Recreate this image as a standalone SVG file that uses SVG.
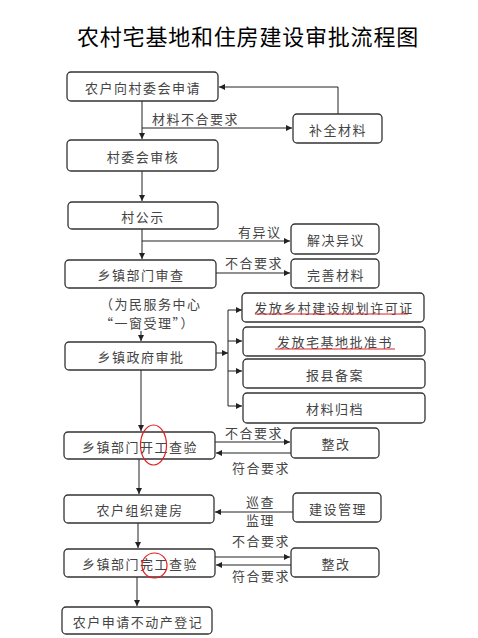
<svg xmlns="http://www.w3.org/2000/svg" width="478" height="638" viewBox="0 0 478 638">
<style>
.b{fill:#fff;stroke:#333;stroke-width:1.3}
.t{font-family:"Noto Sans CJK SC","Noto Sans",sans-serif;font-size:13px;fill:#444;letter-spacing:1.5px;text-anchor:middle;dominant-baseline:central}
.l{font-family:"Noto Sans CJK SC","Noto Sans",sans-serif;font-size:13px;fill:#444;letter-spacing:1.5px;dominant-baseline:central}
.c{fill:none;stroke:#222;stroke-width:1}
.r{fill:none;stroke:#e02020;stroke-width:1.2}
</style>
<defs>
<marker id="a" viewBox="0 0 8 8" refX="8" refY="4" markerWidth="6" markerHeight="6" markerUnits="userSpaceOnUse" orient="auto"><path d="M0,0L8,4L0,8z" fill="#222"/></marker>
</defs>
<text x="248" y="35" style="font-family:'Noto Sans CJK SC',sans-serif;font-size:22px;fill:#000;letter-spacing:0.8px;text-anchor:middle;dominant-baseline:central">农村宅基地和住房建设审批流程图</text>

<g id="connectors">
<path class="c" d="M142,101V139" marker-end="url(#a)"/>
<path class="c" d="M142,128H292" marker-end="url(#a)"/>
<path class="c" d="M338,114V87H219" marker-end="url(#a)"/>
<path class="c" d="M142,171V201" marker-end="url(#a)"/>
<path class="c" d="M142,229V259" marker-end="url(#a)"/>
<path class="c" d="M142,241H290" marker-end="url(#a)"/>
<path class="c" d="M216,273H290" marker-end="url(#a)"/>
<path class="c" d="M141,331V341" marker-end="url(#a)"/>
<path class="c" d="M216,353H228" marker-end="url(#a)"/>
<path class="c" d="M228,310V406"/>
<path class="c" d="M228,310H242" marker-end="url(#a)"/>
<path class="c" d="M228,341H242" marker-end="url(#a)"/>
<path class="c" d="M228,371H242" marker-end="url(#a)"/>
<path class="c" d="M228,406H242" marker-end="url(#a)"/>
<path class="c" d="M141,370V431" marker-end="url(#a)"/>
<path class="c" d="M215,442H290" marker-end="url(#a)"/>
<path class="c" d="M291,453H216" marker-end="url(#a)"/>
<path class="c" d="M139,459V494" marker-end="url(#a)"/>
<path class="c" d="M293,512H215" marker-end="url(#a)"/>
<path class="c" d="M138,523V548" marker-end="url(#a)"/>
<path class="c" d="M215,557H290" marker-end="url(#a)"/>
<path class="c" d="M291,565H216" marker-end="url(#a)"/>
<path class="c" d="M137,577V606" marker-end="url(#a)"/>
<text class="l" x="152" y="118">材料不合要求</text>
<text class="l" x="238" y="231">有异议</text>
<text class="l" x="225" y="262">不合要求</text>
<text class="l" x="225" y="432">不合要求</text>
<text class="l" x="232" y="467">符合要求</text>
<text class="l" x="246" y="501">巡查</text>
<text class="l" x="246" y="519">监理</text>
<text class="l" x="232" y="540">不合要求</text>
<text class="l" x="232" y="575">符合要求</text>
</g>

<g id="n1"><rect class="b" x="67" y="72" width="151" height="29" rx="4"/><text class="t" x="143" y="87">农户向村委会申请</text></g>
<g id="n2"><rect class="b" x="293" y="114" width="89" height="29" rx="4"/><text class="t" x="338" y="129">补全材料</text></g>
<g id="n3"><rect class="b" x="67" y="140" width="151" height="31" rx="4"/><text class="t" x="143" y="156">村委会审核</text></g>
<g id="n4"><rect class="b" x="68" y="202" width="150" height="27" rx="4"/><text class="t" x="143" y="216">村公示</text></g>
<g id="n5"><rect class="b" x="291" y="224" width="88" height="30" rx="4"/><text class="t" x="336" y="239">解决异议</text></g>
<g id="n6"><rect class="b" x="65" y="260" width="151" height="28" rx="4"/><text class="t" x="141" y="274">乡镇部门审查</text></g>
<g id="n7"><rect class="b" x="291" y="259" width="88" height="29" rx="4"/><text class="t" x="336" y="274">完善材料</text></g>
<g id="note"><text class="l" x="100" y="303">（为民服务中心</text><text class="l" x="100" y="322">“一窗受理”）</text></g>
<g id="n8"><rect class="b" x="65" y="342" width="151" height="28" rx="4"/><text class="t" x="141" y="356">乡镇政府审批</text></g>
<g id="n9"><rect class="b" x="242" y="293" width="182" height="29" rx="4"/><text class="t" x="334" y="307">发放乡村建设规划许可证</text><path class="r" d="M255,314H408"/></g>
<g id="n10"><rect class="b" x="243" y="327" width="182" height="29" rx="4"/><text class="t" x="335" y="341">发放宅基地批准书</text><path class="r" d="M275,349H395"/></g>
<g id="n11"><rect class="b" x="243" y="359" width="182" height="29" rx="4"/><text class="t" x="335" y="374">报县备案</text></g>
<g id="n12"><rect class="b" x="243" y="393" width="182" height="30" rx="4"/><text class="t" x="335" y="408">材料归档</text></g>
<g id="n13"><rect class="b" x="64" y="432" width="151" height="27" rx="4"/><text class="t" x="140" y="446">乡镇部门开工查验</text><ellipse class="r" cx="153.5" cy="445" rx="13" ry="20"/></g>
<g id="n14"><rect class="b" x="291" y="428" width="88" height="30" rx="4"/><text class="t" x="336" y="443">整改</text></g>
<g id="n15"><rect class="b" x="64" y="495" width="150" height="28" rx="4"/><text class="t" x="140" y="509">农户组织建房</text></g>
<g id="n16"><rect class="b" x="293" y="493" width="88" height="29" rx="4"/><text class="t" x="338" y="508">建设管理</text></g>
<g id="n17"><rect class="b" x="64" y="549" width="151" height="28" rx="4"/><text class="t" x="140" y="563">乡镇部门完工查验</text><circle class="r" cx="154.5" cy="565.5" r="12.5"/></g>
<g id="n18"><rect class="b" x="291" y="548" width="88" height="29" rx="4"/><text class="t" x="336" y="563">整改</text></g>
<g id="n19"><rect class="b" x="62" y="607" width="150" height="27" rx="4"/><text class="t" x="138" y="621">农户申请不动产登记</text></g>
</svg>
